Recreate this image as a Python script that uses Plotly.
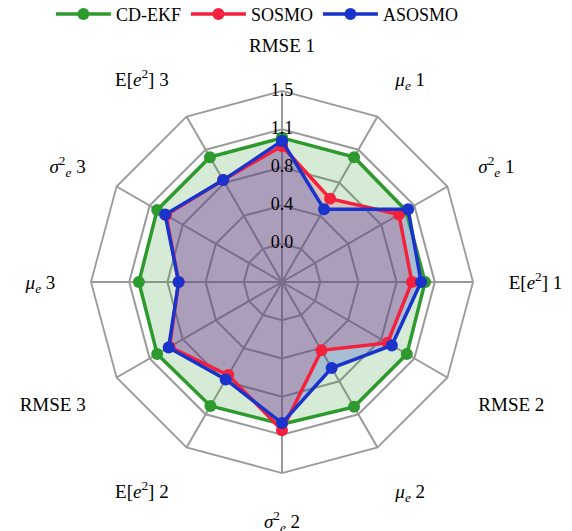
import plotly.graph_objects as go

categories = [
    "RMSE 1", "<i>μ<sub>e</sub></i> 1", "<i>σ</i><sup>2</sup><sub><i>e</i></sub> 1", "E[<i>e</i><sup>2</sup>] 1",
    "RMSE 2", "<i>μ<sub>e</sub></i> 2", "<i>σ</i><sup>2</sup><sub><i>e</i></sub> 2", "E[<i>e</i><sup>2</sup>] 2",
    "RMSE 3", "<i>μ<sub>e</sub></i> 3", "<i>σ</i><sup>2</sup><sub><i>e</i></sub> 3", "E[<i>e</i><sup>2</sup>] 3",
]
cd_ekf = [1.04, 1.04, 1.03, 1.03, 1.04, 1.04, 1.02, 1.03, 1.04, 1.03, 1.04, 1.04]
sosmo = [0.96, 0.57, 0.95, 0.90, 0.82, 0.40, 1.08, 0.68, 0.90, 0.64, 0.94, 0.78]
asosmo = [1.01, 0.45, 1.055, 0.99, 0.87, 0.60, 1.01, 0.73, 0.91, 0.64, 0.95, 0.78]
radial_range = [-0.375, 1.5]
radial_ticks = [0.0, 0.375, 0.75, 1.125, 1.5]
radial_tick_labels = ["0.0", "0.4", "0.8", "1.1", "1.5"]

series = [
    ("CD-EKF", cd_ekf, "#2e9a2e", "rgba(46,154,46,0.2)"),
    ("SOSMO", sosmo, "#f5203c", "rgba(245,32,60,0.2)"),
    ("ASOSMO", asosmo, "#1a33cc", "rgba(26,51,204,0.25)"),
]

FONT = "Liberation Serif, Times New Roman, serif"
fig = go.Figure()
for name, vals, col, fillcol in series:
    fig.add_trace(go.Scatterpolar(
        r=vals + vals[:1], theta=categories + categories[:1],
        mode="none", fill="toself", fillcolor=fillcol, showlegend=False,
        hoverinfo="skip",
    ))
for name, vals, col, fillcol in series:
    fig.add_trace(go.Scatterpolar(
        r=vals + vals[:1], theta=categories + categories[:1],
        mode="lines+markers", name=name,
        line=dict(color=col, width=3.5), marker=dict(color=col, size=12),
    ))

# radial tick labels on an overlaid helper polar whose radial axis starts at 0
# (same scale as the main one, offset by the main axis minimum)
fig.add_trace(go.Scatterpolar(
    r=[t - radial_range[0] for t in radial_ticks], theta=[categories[0]] * len(radial_ticks),
    mode="text", text=radial_tick_labels, textposition="middle center",
    textfont=dict(family=FONT, size=18, color="black"), showlegend=False,
    hoverinfo="skip", cliponaxis=False, subplot="polar2",
))

grid = "#9a9a9a"
dom = dict(x=[91/572, 473/572], y=[1-473/531, 1-91/531])
fig.update_layout(
    width=572, height=531,
    margin=dict(l=0, r=0, t=0, b=0, autoexpand=False),
    paper_bgcolor="white", plot_bgcolor="white",
    font=dict(family=FONT, size=18, color="black"),
    legend=dict(orientation="h", x=0.45, xanchor="center", y=1.008, yanchor="top",
                font=dict(family=FONT, size=18), itemwidth=55,
                tracegroupgap=0, bgcolor="rgba(0,0,0,0)"),
    polar=dict(
        domain=dom,
        bgcolor="white",
        gridshape="linear",
        radialaxis=dict(range=radial_range, tickvals=radial_ticks, showticklabels=False,
                        ticks="", showline=False, gridcolor=grid, gridwidth=1.8, angle=90),
        angularaxis=dict(direction="clockwise", rotation=90, showline=True, linecolor=grid,
                         linewidth=1.8, gridcolor=grid, gridwidth=1.8, ticks="outside",
                         ticklen=31, tickcolor="rgba(0,0,0,0)",
                         tickfont=dict(family=FONT, size=19)),
    ),
    polar2=dict(
        domain=dom,
        bgcolor="rgba(0,0,0,0)",
        gridshape="circular",
        radialaxis=dict(range=[0, radial_range[1] - radial_range[0]], visible=False),
        angularaxis=dict(direction="clockwise", rotation=90, visible=False),
    ),
)
fig.write_html("out.html", post_script="document.body.style.margin='0px';",
               config={"displayModeBar": False})
